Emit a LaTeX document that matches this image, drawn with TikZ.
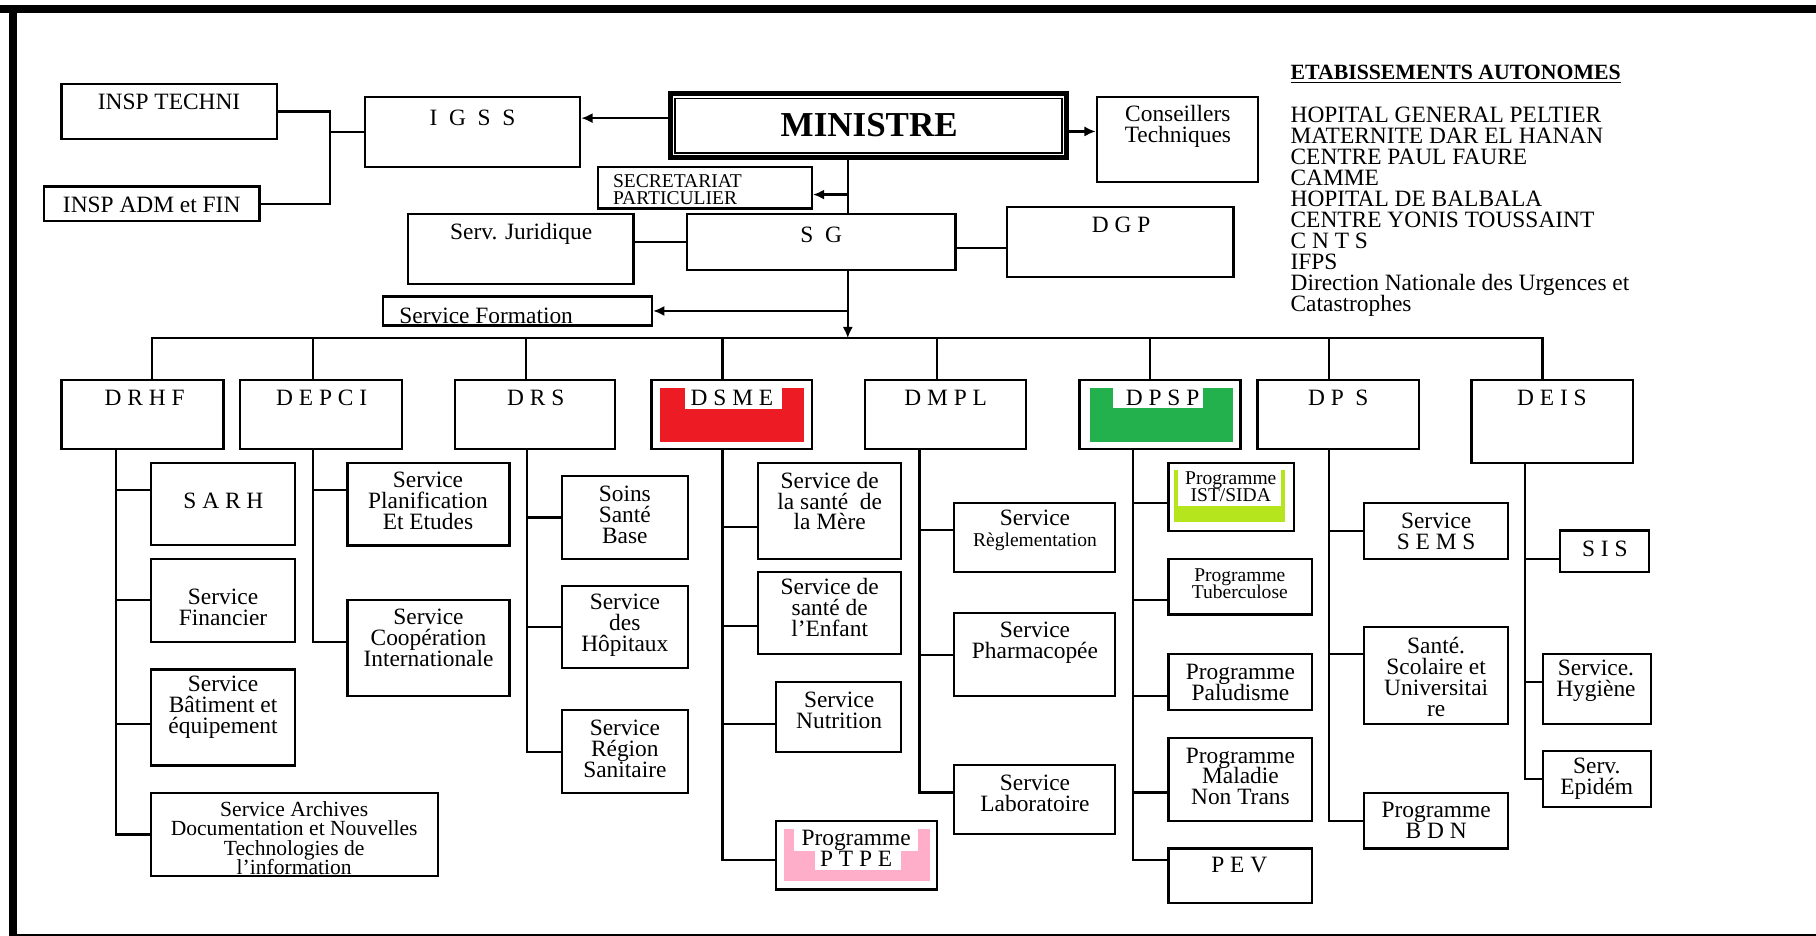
\documentclass[tikz,border=0pt]{standalone}
\usepackage{fontspec}
\setmainfont{Liberation Serif}
\usetikzlibrary{arrows.meta,fit,calc}
\definecolor{rouge}{HTML}{ED1C24}
\definecolor{vert}{HTML}{22B14C}
\definecolor{citron}{HTML}{B5E61D}
\definecolor{rose}{HTML}{FFAEC9}
\newcommand{\normfont}{\fontsize{11.5}{10.3}\selectfont\lineskiplimit=-20pt\lineskip=0pt}
\newcommand{\petitfont}{\fontsize{9.6}{8.3}\selectfont\lineskiplimit=-20pt\lineskip=0pt}
\newcommand{\archfont}{\fontsize{10.6}{9.4}\selectfont\lineskiplimit=-20pt\lineskip=0pt}
\tikzset{
  trait/.style={line width=1.1pt},
  fleche/.style={-{Latex[length=5.5pt,width=5pt]},line width=1.1pt},
  boite/.style={draw,line width=1.1pt,fill=white,inner sep=0pt},
  txt/.style={inner sep=0pt,align=center,font=\normfont},
  txtp/.style={inner sep=0pt,align=center,font=\petitfont},
}

\begin{document}
\begin{tikzpicture}[x=0.02cm,y=-0.02cm]
  \useasboundingbox (0,0) rectangle (1568,808);
  % cadre
  \fill (0,4.3) rectangle (1568,11.5);
  \fill (7.8,4.3) rectangle (14.4,808);
  \fill (7.8,806.4) rectangle (1568,808);

  % niveau ministre
  \node[boite,fit={(53,72.5) (239,120)}] (inspt) {};
  \node[txt] (t-inspt) at (146,88) {INSP TECHNI};
  \node[boite,fit={(38,161) (224,191)}] (inspa) {};
  \node[txt] (t-inspa) at (131,177) {INSP ADM et FIN};
  \node[boite,fit={(315,84) (501,144)}] (igss) {};
  \node[txt] (t-igss) at (408,102) {I\enspace G\enspace S\enspace S};
  \node[boite,line width=2.4pt,fit={(579,81) (921,136)}] (ministre) {};
  \draw[line width=0.8pt] ([shift={(0.12cm,-0.12cm)}]ministre.north west) rectangle ([shift={(-0.12cm,0.12cm)}]ministre.south east);
  \node[inner sep=0pt,font=\bfseries\fontsize{17.2}{19}\selectfont] (t-ministre) at (750.5,108) {MINISTRE};
  \node[boite,fit={(947,84) (1086,157)}] (conseil) {};
  \node[txt] (t-conseil) at (1017,109) {Conseillers\\Techniques};
  \node[boite,fit={(516.5,144) (701,180)}] (secr) {};
  \node[txtp,anchor=west,align=left] (t-secr) at (529,163.5) {SECRETARIAT\\PARTICULIER};
  \node[boite,fit={(352,185) (547,245)}] (juri) {};
  \node[txt] (t-juri) at (450,201.5) {Serv. Juridique};
  \node[boite,fit={(593,185) (825,233)}] (sg) {};
  \node[txt] (t-sg) at (709,203) {S\enspace G};
  \node[boite,fit={(869.6,178.5) (1065,239)}] (dgp) {};
  \node[txt] (t-dgp) at (968,194) {D G P};
  \node[boite,fit={(331,256) (563,281)}] (form) {};
  \begin{scope}
    \clip (form.north west) rectangle (form.south east);
    \node[txt,anchor=base west] (t-form) at (344.5,279.5) {Service Formation};
  \end{scope}

  % etablissements
  \node[anchor=base west,inner sep=0pt,font=\bfseries\fontsize{10.7}{12}\selectfont] (t-etab) at (1114,68.5) {\underline{ETABISSEMENTS AUTONOMES}};
  \node[anchor=north west,inner sep=0pt,align=left,font=\normfont] (liste) at (1114,92) {HOPITAL GENERAL PELTIER\\MATERNITE DAR EL HANAN\\CENTRE PAUL FAURE\\CAMME\\HOPITAL DE BALBALA\\CENTRE YONIS TOUSSAINT\\C N T S\\IFPS\\Direction Nationale des Urgences et\\Catastrophes};

  % directions
  \coordinate (bus) at (732,292);
  \node[boite,fit={(53,328) (193,388)}] (drhf) {};
  \node[txt] (t-drhf) at (124.8,343.5) {D R H F};
  \node[boite,fit={(207,328) (347,388)}] (depci) {};
  \node[txt] (t-depci) at (277.8,343.5) {D E P C I};
  \node[boite,fit={(392.7,328) (531,388)}] (drs) {};
  \node[txt] (t-drs) at (462.6,343.5) {D R S};
  \node[boite,fit={(562.5,328) (701,388)}] (dsme) {};
  \fill[rouge] (570,334.8) rectangle (694,381.7);
  \fill[white] (591.5,334.8) rectangle (675,353);
  \node[txt] (t-dsme) at (632,343.8) {D S M E};
  \node[boite,fit={(747,328) (886,388)}] (dmpl) {};
  \node[txt] (t-dmpl) at (816.5,343.5) {D M P L};
  \node[boite,fit={(932,328) (1071,388)}] (dpsp) {};
  \fill[vert] (941,334.8) rectangle (1065,381.7);
  \fill[white] (961,334.8) rectangle (1039,352);
  \node[txt] (t-dpsp) at (1003.8,343.8) {D P S P};
  \node[boite,fit={(1085.7,328) (1225.5,388)}] (dps) {};
  \node[txt] (t-dps) at (1155.5,343.5) {D P\enspace S};
  \node[boite,fit={(1270.5,328) (1410,400)}] (deis) {};
  \node[txt] (t-deis) at (1340,343.5) {D E I S};

  % services
  \node[boite,fit={(130.6,400) (254.7,470.8)}] (sarh) {};
  \node[txt] (t-sarh) at (192.9,432.7) {S A R H};
  \node[boite,fit={(130.6,482.5) (254.7,554)}] (fin) {};
  \node[txt] (t-fin) at (192.6,524.2) {Service\\Financier};
  \node[boite,fit={(130.6,578) (254.7,661)}] (bat) {};
  \node[txt] (t-bat) at (192.6,611) {Service\\Bâtiment et\\équipement};
  \node[boite,fit={(130.7,684.5) (378,756.5)}] (arch) {};
  \begin{scope}
    \clip (arch.north west) rectangle (arch.south east);
    \node[txt,font=\archfont] (t-arch) at (254,723.7) {Service Archives\\Documentation et Nouvelles\\Technologies de\\l’information};
  \end{scope}
  \node[boite,fit={(300,400) (440,471)}] (plan) {};
  \node[txt] (t-plan) at (369.5,432.6) {Service\\Planification\\Et Etudes};
  \node[boite,fit={(300,518) (440,601)}] (coop) {};
  \node[txt] (t-coop) at (370,550.8) {Service\\Coopération\\Internationale};
  \node[boite,fit={(485,411) (594,482.5)}] (soins) {};
  \node[txt] (t-soins) at (539.5,444.2) {Soins\\Santé\\Base};
  \node[boite,fit={(485,506) (594,577)}] (hop) {};
  \node[txt] (t-hop) at (539.5,539.7) {Service\\des\\Hôpitaux};
  \node[boite,fit={(485,613) (594,685)}] (region) {};
  \node[txt] (t-region) at (539.5,646.2) {Service\\Région\\Sanitaire};
  \node[boite,fit={(654.7,399.5) (778,482.5)}] (mere) {};
  \node[txt] (t-mere) at (716.4,432.6) {Service de\\la santé~ de\\la Mère};
  \node[boite,fit={(654.7,494) (778,565)}] (enfant) {};
  \node[txt] (t-enfant) at (716.4,524.5) {Service de\\santé de\\l’Enfant};
  \node[boite,fit={(670,589) (778,649)}] (nutri) {};
  \node[txt] (t-nutri) at (724.5,613.5) {Service\\Nutrition};
  \node[boite,fit={(670,708.7) (809,768)}] (ptpe) {};
  \fill[rose] (677,715.6) rectangle (803,760.5);
  \fill[white] (685.6,715.6) rectangle (792.6,734.6);
  \fill[white] (704,734.6) rectangle (777.6,751);
  \node[txt] (t-ptpe) at (739.2,732.3) {Programme\\P T P E};
  \node[boite,fit={(824,434.6) (963,494)}] (regl) {};
  \node[txt] (t-regl) at (893.6,458.3) {Service\\{\petitfont Règlementation}};
  \node[boite,fit={(824,529.6) (963,601)}] (pharma) {};
  \node[txt] (t-pharma) at (893.6,554.8) {Service\\Pharmacopée};
  \node[boite,fit={(824,660.6) (963,720)}] (labo) {};
  \node[txt] (t-labo) at (893.6,684.9) {Service\\Laboratoire};
  \node[boite,fit={(1009,399.5) (1117.5,458.5)}] (ist) {};
  \fill[citron] (1013.8,406) rectangle (1109.7,451);
  \fill[white] (1017,406) rectangle (1106,437);
  \node[txtp] (t-ist) at (1062.7,420.3) {Programme\\IST/SIDA};
  \node[boite,fit={(1009,482.5) (1133,530.6)}] (tuber) {};
  \node[txtp] (t-tuber) at (1070.5,503.8) {Programme\\Tuberculose};
  \node[boite,fit={(1009,565) (1133,613)}] (palu) {};
  \node[txt] (t-palu) at (1071,589.6) {Programme\\Paludisme};
  \node[boite,fit={(1009,637) (1133,708.7)}] (mnt) {};
  \node[txt] (t-mnt) at (1071,670.4) {Programme\\Maladie\\Non Trans};
  \node[boite,fit={(1009,732.6) (1133,780)}] (pev) {};
  \node[txt] (t-pev) at (1070,747) {P E V};
  \node[boite,fit={(1178,434.6) (1302,482.5)}] (sems) {};
  \node[txt] (t-sems) at (1240,458.7) {Service\\S E M S};
  \node[boite,fit={(1178,541.6) (1302,625.2)}] (scol) {};
  \node[txt] (t-scol) at (1240,584.4) {Santé.\\Scolaire et\\Universitai\\re};
  \node[boite,fit={(1178,684.5) (1302,732.6)}] (bdn) {};
  \node[txt] (t-bdn) at (1240,708.4) {Programme\\B D N};
  \node[boite,fit={(1347,458) (1423.7,494)}] (sis) {};
  \node[txt] (t-sis) at (1385.6,473.8) {S I S};
  \node[boite,fit={(1332,565) (1425.4,625)}] (hyg) {};
  \node[txt] (t-hyg) at (1378,588.2) {Service.\\Hygiène};
  \node[boite,fit={(1332,648.5) (1425.4,696.6)}] (epid) {};
  \node[txt] (t-epid) at (1378.7,672.5) {Serv.\\Epidém};

  % liaisons du haut
  \coordinate (jonc) at (285,114);
  \draw[trait] (inspt.east) -| (jonc) |- (inspa.east);
  \draw[trait] (jonc) -- (igss.west);
  \draw[fleche] ([yshift=0.13cm]ministre.west) -- ([yshift=0.13cm]ministre.west -| igss.east);
  \draw[fleche] ([yshift=-0.1cm]ministre.east) -- ([yshift=-0.1cm]ministre.east -| conseil.west);
  \draw[trait] (ministre.south -| bus) -- (sg.north -| bus);
  \draw[fleche] ([yshift=-0.12cm]secr.east -| bus) -- ([yshift=-0.12cm]secr.east);
  \draw[trait] (sg.west) -- (sg.west -| juri.east);
  \draw[trait] ([yshift=-0.1cm]sg.east) -- ([yshift=-0.1cm]sg.east -| dgp.west);
  \draw[fleche] (form.east -| bus) -- (form.east);
  \draw[fleche] (sg.south -| bus) -- (bus);

  % vers les directions
  \draw[trait] (bus) -| ([xshift=0.16cm]drhf.north);
  \draw[trait] (bus) -| ([xshift=-0.14cm]depci.north);
  \draw[trait] (bus) -| ([xshift=-0.16cm]drs.north);
  \draw[trait] (bus) -| ([xshift=-0.16cm]dsme.north);
  \draw[trait] (bus) -| ([xshift=-0.15cm]dmpl.north);
  \draw[trait] (bus) -| ([xshift=-0.17cm]dpsp.north);
  \draw[trait] (bus) -| ([xshift=-0.16cm]dps.north);
  \draw[trait] (bus) -| ([xshift=-0.17cm]deis.north);

  % vers les services
  \draw[trait] ([xshift=-0.46cm]drhf.south) |- ([yshift=0.25cm]sarh.west);
  \draw[trait] ([xshift=-0.46cm]drhf.south) |- (fin.west);
  \draw[trait] ([xshift=-0.46cm]drhf.south) |- ([yshift=-0.11cm]bat.west);
  \draw[trait] ([xshift=-0.46cm]drhf.south) |- (arch.west);
  \draw[trait] ([xshift=-0.14cm]depci.south) |- ([yshift=0.25cm]plan.west);
  \draw[trait] ([xshift=-0.14cm]depci.south) |- ([yshift=0.11cm]coop.west);
  \draw[trait] ([xshift=-0.14cm]drs.south) |- (soins.west);
  \draw[trait] ([xshift=-0.14cm]drs.south) |- (hop.west);
  \draw[trait] ([xshift=-0.14cm]drs.south) |- (region.west);
  \draw[trait] ([xshift=-0.16cm]dsme.south) |- ([yshift=-0.28cm]mere.west);
  \draw[trait] ([xshift=-0.16cm]dsme.south) |- ([yshift=-0.22cm]enfant.west);
  \draw[trait] ([xshift=-0.16cm]dsme.south) |- ([yshift=-0.12cm]nutri.west);
  \draw[trait] ([xshift=-0.16cm]dsme.south) |- ([yshift=-0.09cm]ptpe.west);
  \draw[trait] ([xshift=-0.45cm]dmpl.south) |- ([yshift=0.13cm]regl.west);
  \draw[trait] ([xshift=-0.45cm]dmpl.south) |- (pharma.west);
  \draw[trait] ([xshift=-0.45cm]dmpl.south) |- ([yshift=0.12cm]labo.west);
  \draw[trait] ([xshift=-0.47cm]dpsp.south) |- ([yshift=-0.11cm]ist.west);
  \draw[trait] ([xshift=-0.47cm]dpsp.south) |- ([yshift=-0.23cm]tuber.west);
  \draw[trait] ([xshift=-0.47cm]dpsp.south) |- ([yshift=-0.24cm]palu.west);
  \draw[trait] ([xshift=-0.47cm]dpsp.south) |- ([yshift=-0.23cm]mnt.west);
  \draw[trait] ([xshift=-0.47cm]dpsp.south) |- ([yshift=0.27cm]pev.west);
  \draw[trait] ([xshift=-0.16cm]dps.south) |- (sems.west);
  \draw[trait] ([xshift=-0.16cm]dps.south) |- ([yshift=0.37cm]scol.west);
  \draw[trait] ([xshift=-0.16cm]dps.south) |- (bdn.west);
  \draw[trait] ([xshift=-0.47cm]deis.south) |- ([yshift=-0.13cm]sis.west);
  \draw[trait] ([xshift=-0.47cm]deis.south) |- ([yshift=0.12cm]hyg.west);
  \draw[trait] ([xshift=-0.47cm]deis.south) |- (epid.west);
\end{tikzpicture}
\end{document}
